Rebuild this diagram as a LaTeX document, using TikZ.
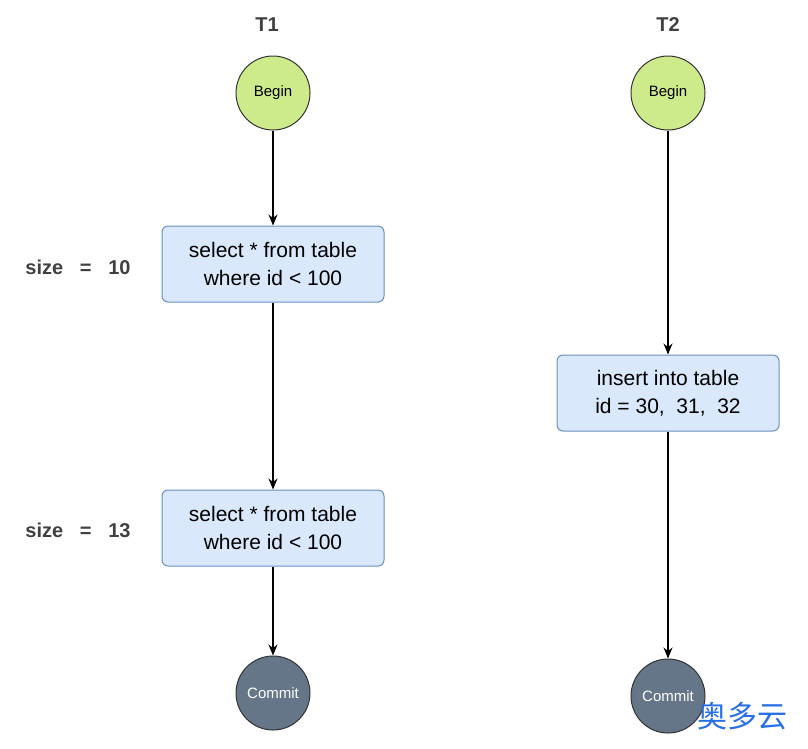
\documentclass[tikz,border=0pt]{standalone}
\usepackage{fontspec}
\setmainfont{Liberation Sans}
\newfontfamily\cjk{Noto Sans CJK SC}
\usetikzlibrary{arrows.meta}
\begin{document}
\begin{tikzpicture}[x=1pt,y=-1pt,
  beg/.style={circle,draw=black!80,line width=1pt,fill={rgb,255:red,205;green,235;blue,139},minimum size=74pt,inner sep=0pt,font=\fontsize{15}{18}\selectfont},
  com/.style={circle,draw=black!80,line width=1pt,fill={rgb,255:red,100;green,118;blue,135},text=white,minimum size=74pt,inner sep=0pt,font=\fontsize{15}{18}\selectfont},
  op/.style={rounded corners=6pt,line width=1pt,draw={rgb,255:red,108;green,142;blue,191},fill={rgb,255:red,218;green,232;blue,252},minimum width=222pt,minimum height=76pt,align=center,font=\fontsize{21}{28}\selectfont},
  lab/.style={font=\bfseries\fontsize{20}{24}\selectfont,text=black!75},
  arr/.style={-{Stealth[length=11pt,width=9pt]},line width=1.3pt}]
\useasboundingbox (0,0) rectangle (808,748);
\node[lab] (t1) at (267,25) {T1};
\node[lab] (t2) at (668,25) {T2};
\node[beg] (b1) at (273,93) {Begin};
\node[op] (s1) at (273,264) {select * from table\\where id < 100};
\node[op] (s2) at (273,528) {select * from table\\where id < 100};
\node[com] (c1) at (273,693) {Commit};
\node[beg] (b2) at (668,93) {Begin};
\node[op] (i1) at (668,393) {insert into table\\id = 30,\ \ 31,\ \ 32};
\node[com] (c2) at (668,696) {Commit};
\node[lab] (z1) at (78,267) {size\ \ \ =\ \ \ 10};
\node[lab] (z2) at (78,530) {size\ \ \ =\ \ \ 13};
\draw[arr] (b1) -- (s1);
\draw[arr] (s1) -- (s2);
\draw[arr] (s2) -- (c1);
\draw[arr] (b2) -- (i1);
\draw[arr] (i1) -- (c2);
\node[font=\cjk\fontsize{30}{34}\selectfont,text={rgb,255:red,40;green,110;blue,230}] (wm) at (742,716) {奥多云};
\end{tikzpicture}
\end{document}
